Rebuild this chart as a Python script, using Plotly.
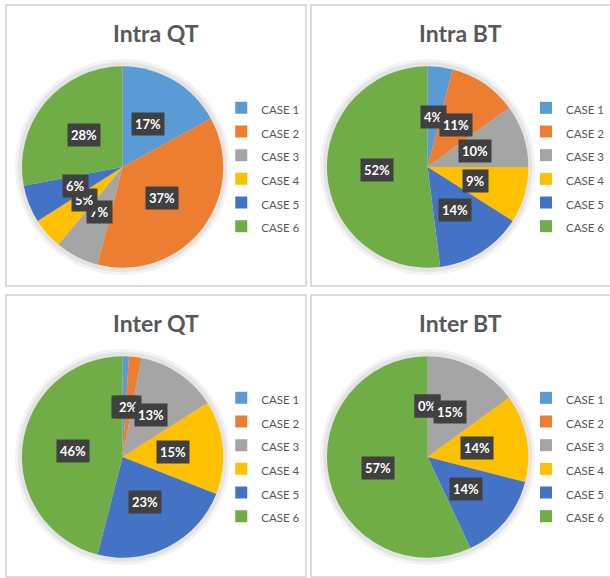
import math
import plotly.graph_objects as go

# ---- data ----
categories = ["CASE 1", "CASE 2", "CASE 3", "CASE 4", "CASE 5", "CASE 6"]
intra_qt = [17, 37, 7, 5, 6, 28]
intra_bt = [4, 11, 10, 9, 14, 52]
inter_qt = [1, 2, 13, 15, 23, 46]
inter_bt = [0, 0, 15, 14, 14, 57]
titles = ["Intra QT", "Intra BT", "Inter QT", "Inter BT"]
series = [intra_qt, intra_bt, inter_qt, inter_bt]

colors = ["#5B9BD5", "#ED7D31", "#A5A5A5", "#FFC000", "#4472C4", "#70AD47"]
FONT = "Lato"
W, H = 610, 578

# panel frames (pixels): x0, y0, x1, y1
panels = [(6, 5, 307, 286), (312, 5, 613, 286), (6, 295, 307, 577), (312, 295, 613, 577)]
R = 101

def px(x):
    return x / W

def py(y):
    return 1 - y / H

fig = go.Figure()
shapes = []
annotations = []
legend_names = ["legend", "legend2", "legend3", "legend4"]
# equivalent size strings keep each panel's labels distinct so each legend is kept
size_strings = ["11.5px", "11.50px", "11.500px", "11.5000px"]

for i, (vals, title, (x0, y0, x1, y1)) in enumerate(zip(series, titles, panels)):
    cx, cy = x0 + 117, y0 + 162
    legend_label = [f'<span style="font-size:{size_strings[i]}">{c}</span>' for c in categories]
    # frame
    shapes.append(dict(type="rect", xref="paper", yref="paper",
                       x0=px(x0), x1=px(x1), y0=py(y1), y1=py(y0),
                       line=dict(color="#d0d0d0", width=1.5), layer="below"))
    # soft shadow halo
    for dr, col in [(7, "#f3f3f3"), (4, "#e4e4e4")]:
        shapes.append(dict(type="circle", xref="paper", yref="paper",
                           x0=px(cx - R - dr), x1=px(cx + R + dr),
                           y0=py(cy + R + dr), y1=py(cy - R - dr),
                           fillcolor=col, line=dict(width=0), layer="below"))
    fig.add_trace(go.Pie(
        values=vals, labels=legend_label, sort=False, direction="clockwise",
        rotation=0, textinfo="none", hoverinfo="label+percent",
        marker=dict(colors=colors, line=dict(width=0)),
        domain=dict(x=[px(cx - R), px(cx + R)], y=[py(cy + R), py(cy - R)]),
        legend=legend_names[i], showlegend=True,
    ))
    # title
    annotations.append(dict(text=f"<b>{title}</b>", xref="paper", yref="paper",
                            x=px((x0 + x1) / 2), y=py(y0 + 28), showarrow=False,
                            xanchor="center", yanchor="middle",
                            font=dict(family=FONT, size=23, color="#595959")))
    # data labels
    total = sum(vals)
    cum = 0
    for v in vals:
        theta = 2 * math.pi * (cum + v / 2) / total
        cum += v
        lx = cx + 0.5 * R * math.sin(theta)
        ly = cy - 0.5 * R * math.cos(theta)
        annotations.append(dict(text=f"<b>{round(100 * v / total)}%</b>",
                                xref="paper", yref="paper", x=px(lx), y=py(ly),
                                showarrow=False, xanchor="center", yanchor="middle",
                                bgcolor="#404040", borderpad=3,
                                font=dict(family=FONT, size=13, color="white")))

layout_legends = {}
for i, (x0, y0, x1, y1) in enumerate(panels):
    layout_legends[legend_names[i]] = dict(
        x=px(x0 + 216), y=py(y0 + 86), xanchor="left", yanchor="top",
        orientation="v", bgcolor="rgba(0,0,0,0)", borderwidth=0,
        font=dict(family=FONT, size=15.9, color="#595959"),
    )

fig.update_layout(
    width=W, height=H, margin=dict(l=0, r=0, t=0, b=0),
    paper_bgcolor="white", plot_bgcolor="white",
    shapes=shapes, annotations=annotations,
    **layout_legends,
)

fig.write_html("out.html")
